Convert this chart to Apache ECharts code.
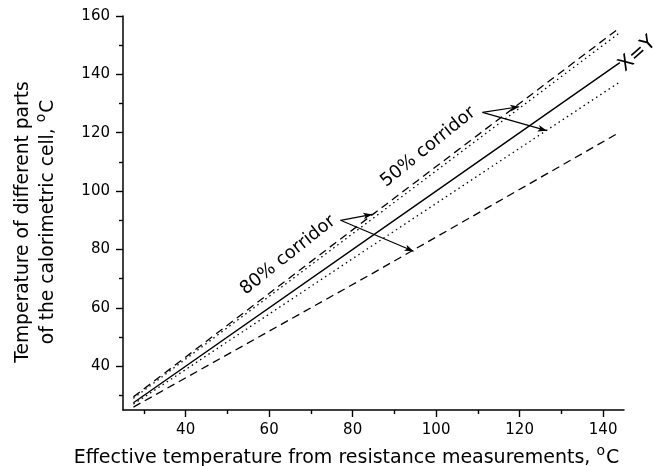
<!DOCTYPE html>
<html>
<head>
<meta charset="utf-8">
<script src="https://cdn.jsdelivr.net/npm/echarts@6/dist/echarts.min.js"></script>
<style>
  html, body { margin: 0; padding: 0; background: #fff; }
  #chart { width: 654px; height: 466px; }
</style>
</head>
<body>
<div id="chart"></div>
<script>
// x positions where each curve is read
const xs = [27.5, 85, 144];
const identity = [27.5, 85, 144];
const upper80 = [29.5, 92.2, 156];
const upper50 = [29, 90.8, 154.3];
const lower50 = [27, 81.6, 137.4];
const lower80 = [26, 72, 120.2];

// annotation arrows: start point (text end) and two targets
const arrowStart80 = [77.1, 90.0];
const arrowEnds80 = [[84.7, 92.0], [94.6, 79.4]];
const arrowStart50 = [111.1, 127.0];
const arrowEnds50 = [[119.9, 128.9], [126.5, 120.7]];

// rotated text labels
const labelText = ['80% corridor', '50% corridor', 'X=Y'];
const labelX = [64.5, 98.1, 148.2];
const labelY = [78.0, 115.1, 147.0];
const labelAngle = [38.5, 39, 42];
const labelSize = [18, 18, 20];

const xTicks = [40, 60, 80, 100, 120, 140];
const xMinor = [30, 50, 70, 90, 110, 130];
const yTicks = [40, 60, 80, 100, 120, 140, 160];
const yMinor = [30, 50, 70, 90, 110, 130, 150];

const pairs = ys => xs.map((x, i) => [x, ys[i]]);

const chart = echarts.init(document.getElementById('chart'));

const black = { color: '#000', width: 1.4 };

const supStyle = {
  sup: { fontSize: 14, fontFamily: 'DejaVu Sans', color: '#000', verticalAlign: 'middle', padding: [0, 1, 14, 0] }
};

const mainAxis = (min, max, ticks) => ({
  type: 'value',
  min, max,
  axisLine: { show: true, onZero: false, lineStyle: { color: '#000', width: 1.5 } },
  axisTick: { show: true, inside: false, length: 7, customValues: ticks, lineStyle: black },
  splitLine: { show: false },
  axisLabel: { color: '#000', fontSize: 15, fontFamily: 'DejaVu Sans', margin: 13, customValues: ticks },
  nameLocation: 'middle'
});

const minorAxis = (min, max, ticks, position) => ({
  type: 'value',
  min, max, position,
  axisLine: { show: false },
  axisTick: { show: true, inside: false, length: 4, customValues: ticks, lineStyle: black },
  axisLabel: { show: false },
  splitLine: { show: false }
});

const arrowLines = (start, ends) => ends.map(e => [{ coord: start }, { coord: e }]);

const lineSeries = (name, ys, type, width) => ({
  name,
  type: 'line',
  data: pairs(ys),
  showSymbol: false,
  silent: true,
  animation: false,
  lineStyle: { color: '#000', width, type }
});

const solid = lineSeries('X=Y', identity, 'solid', 1.4);
solid.markLine = {
  silent: true,
  animation: false,
  symbol: ['none', 'arrow'],
  symbolSize: [5, 9],
  label: { show: false },
  lineStyle: { color: '#000', width: 1.2, type: 'solid' },
  data: arrowLines(arrowStart80, arrowEnds80).concat(arrowLines(arrowStart50, arrowEnds50))
};

const xMain = mainAxis(25, 145, xTicks);
xMain.name = 'Effective temperature from resistance measurements, {sup|o}C';
xMain.nameGap = 34;
xMain.nameTextStyle = {
  color: '#000', fontSize: 19, fontFamily: 'DejaVu Sans',
  padding: [0, 54, 0, 0], rich: supStyle
};

const yMain = mainAxis(25, 160, yTicks);
yMain.name = 'Temperature of different parts\nof the calorimetric cell, {sup|o}C';
yMain.nameGap = 62;
yMain.nameTextStyle = {
  color: '#000', fontSize: 18.7, fontFamily: 'DejaVu Sans', lineHeight: 25,
  padding: [0, 18, 0, 0], rich: supStyle
};

chart.setOption({
  backgroundColor: '#fff',
  animation: false,
  grid: { left: 123, right: 30, top: 16, bottom: 56, outerBoundsMode: 'none', containLabel: false },
  xAxis: [xMain, minorAxis(25, 145, xMinor, 'bottom')],
  yAxis: [yMain, minorAxis(25, 160, yMinor, 'left')],
  series: [
    solid,
    lineSeries('80% upper', upper80, [8, 5], 1.3),
    lineSeries('50% upper', upper50, [1.5, 3.5], 1.3),
    lineSeries('50% lower', lower50, [1.5, 3.5], 1.3),
    lineSeries('80% lower', lower80, [8, 5], 1.3)
  ]
});

const labels = labelText.map((t, i) => {
  const p = chart.convertToPixel({ gridIndex: 0 }, [labelX[i], labelY[i]]);
  return {
    type: 'text',
    x: p[0], y: p[1],
    rotation: labelAngle[i] * Math.PI / 180,
    silent: true,
    style: {
      text: t, fill: '#000', fontSize: labelSize[i], fontFamily: 'DejaVu Sans',
      align: 'center', verticalAlign: 'middle'
    }
  };
});
chart.setOption({ graphic: labels });
</script>
</body>
</html>
